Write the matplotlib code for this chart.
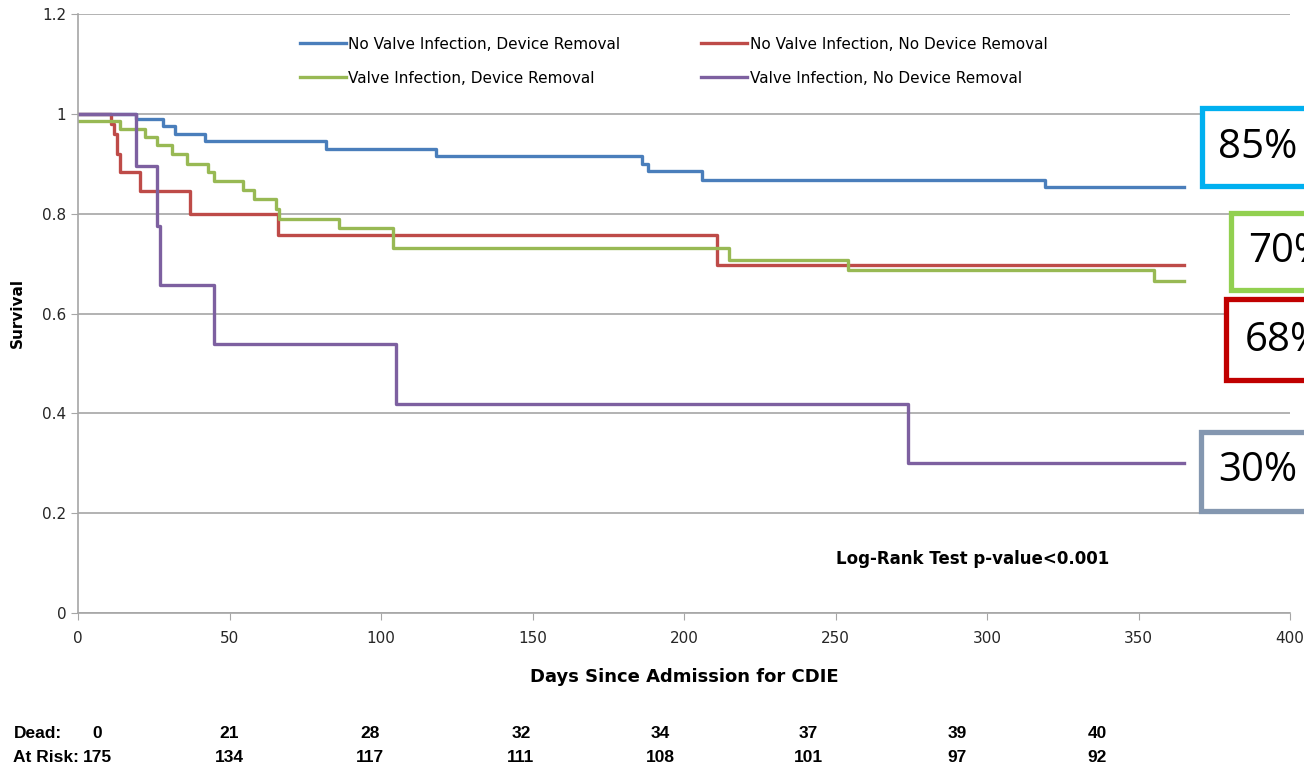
import matplotlib
matplotlib.use("Agg")
import matplotlib.pyplot as plt
from matplotlib.patches import Rectangle

# survival curves (step times in days, survival fraction)
blue_t = [0, 19, 28, 32, 42, 82, 118, 186, 188, 206, 319, 365]
blue_s = [1.0, 0.99, 0.975, 0.96, 0.945, 0.93, 0.915, 0.90, 0.886, 0.868, 0.853, 0.853]

red_t = [0, 11, 12, 13, 14, 20.5, 37, 66, 211, 365]
red_s = [1.0, 0.98, 0.96, 0.92, 0.884, 0.845, 0.80, 0.757, 0.698, 0.698]

green_t = [0, 14, 22, 26, 31, 36, 43, 45, 54.5, 58, 65.5, 66.5, 86, 104, 215, 254, 355, 365]
green_s = [0.985, 0.97, 0.954, 0.938, 0.92, 0.90, 0.884, 0.866, 0.848, 0.83, 0.81, 0.79,
           0.771, 0.731, 0.708, 0.687, 0.665, 0.665]

purple_t = [0, 19, 26, 27, 45, 105, 274, 365]
purple_s = [1.0, 0.895, 0.776, 0.657, 0.538, 0.418, 0.30, 0.30]

labels = ["No Valve Infection, Device Removal", "No Valve Infection, No Device Removal",
          "Valve Infection, Device Removal", "Valve Infection, No Device Removal"]

dead = [0, 21, 28, 32, 34, 37, 39, 40]
at_risk = [175, 134, 117, 111, 108, 101, 97, 92]

pct_labels = ["85%", "70%", "68%", "30%"]

W, H = 1304, 770
fig = plt.figure(figsize=(W / 100, H / 100), dpi=100)

def fx(p):
    return p / W

def fy(p):
    return 1 - p / H

ax = fig.add_axes([fx(78), fy(613), fx(1290) - fx(78), fy(14) - fy(613)])

lb, = ax.step(blue_t, blue_s, where="post", color="#4a7ebb", lw=2.4, label=labels[0])
lr, = ax.step(red_t, red_s, where="post", color="#be4b48", lw=2.4, label=labels[1])
lg, = ax.step(green_t, green_s, where="post", color="#98b954", lw=2.4, label=labels[2])
lp, = ax.step(purple_t, purple_s, where="post", color="#7d60a0", lw=2.4, label=labels[3])

ax.set_xlim(0, 400)
ax.set_ylim(0, 1.2)
ax.set_xticks(range(0, 401, 50))
ax.set_yticks([0, 0.2, 0.4, 0.6, 0.8, 1.0, 1.2])
ax.set_yticklabels(["0", "0.2", "0.4", "0.6", "0.8", "1", "1.2"])
ax.yaxis.grid(True, color="#a6a6a6", lw=1.2)
ax.set_axisbelow(True)
for s in ["top", "right"]:
    ax.spines[s].set_visible(False)
for s in ["left", "bottom"]:
    ax.spines[s].set_color("#a6a6a6")
    ax.spines[s].set_linewidth(1.2)
ax.tick_params(colors="#a6a6a6", labelcolor="#262626", labelsize=11, length=5)
ax.tick_params(axis="x", pad=8)

ax.set_ylabel("Survival", fontsize=11, fontweight="bold", labelpad=12)
ax.set_xlabel("Days Since Admission for CDIE", fontsize=13, fontweight="bold", labelpad=16)

# legend fills column-wise, so order the handles to give rows blue/red, green/purple
ax.legend([lb, lg, lr, lp], [labels[0], labels[2], labels[1], labels[3]],
          loc="upper left", bbox_to_anchor=(0.172, 0.985), ncol=2, frameon=False,
          fontsize=11, handlelength=3.0, handletextpad=0.15, columnspacing=5.3,
          labelspacing=1.25)

ax.text(0.625, 0.09, "Log-Rank Test p-value<0.001", transform=ax.transAxes,
        fontsize=12, fontweight="bold", ha="left", va="center")

# number at risk table
tab_x = [97, 229, 370, 521, 660, 808, 957, 1097]
tab_font = dict(fontsize=12.5, fontweight="bold", family=["Liberation Sans Narrow", "Liberation Sans"])
fig.text(fx(62), fy(733), "Dead:", ha="right", va="center", **tab_font)
fig.text(fx(79), fy(758), "At Risk:", ha="right", va="center", **tab_font)
for x, d, r in zip(tab_x, dead, at_risk):
    fig.text(fx(x), fy(733), str(d), ha="center", va="center", **tab_font)
    fig.text(fx(x), fy(758), str(r), ha="center", va="center", **tab_font)

# percentage boxes on the right
boxes = [(1202, 108, 186, "#00b0f0", 1218, 148),
         (1231, 213, 290, "#92d050", 1248, 252),
         (1226, 299, 380, "#c00000", 1245, 341),
         (1201, 432, 511, "#8497b0", 1218, 471)]
for (x0, y0, y1, col, tx, ty), lab in zip(boxes, pct_labels):
    fig.patches.append(Rectangle((fx(x0), fy(y1)), fx(200), fy(y0) - fy(y1),
                                 transform=fig.transFigure, fill=True, facecolor="white",
                                 edgecolor=col, lw=3.8))
    fig.text(fx(tx), fy(ty), lab, fontsize=29, ha="left", va="center",
             family=["Open Sans", "DejaVu Sans"])

fig.savefig("out.png", dpi=100)
